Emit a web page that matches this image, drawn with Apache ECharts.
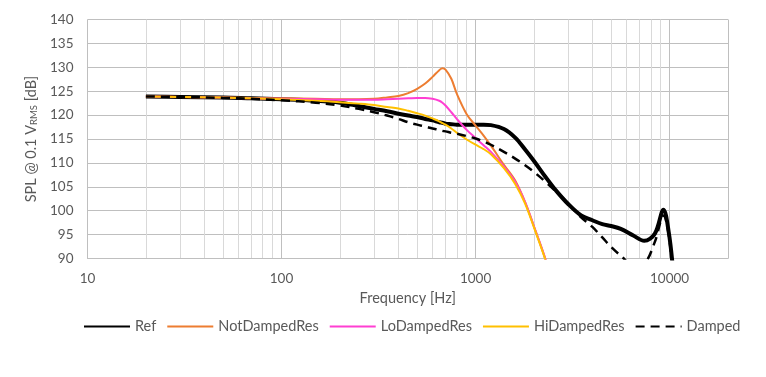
<!DOCTYPE html>
<html><head><meta charset="utf-8">
<script src="https://cdn.jsdelivr.net/npm/echarts@6/dist/echarts.min.js"></script>
<style>html,body{margin:0;padding:0;background:#fff}#c{width:766px;height:377px}</style>
</head><body><div id="c"></div>
<script>
// Frequencies [Hz]
const freq = [20, 30, 50, 70, 100, 150, 200, 250, 300, 350, 400, 450, 500, 550, 600, 650, 675, 700, 750, 800, 900, 1000, 1100, 1200, 1400, 1600, 1800, 2000, 2300, 2600, 3000, 3500, 4000, 4500, 5000, 5600, 6500, 7400, 8400, 9300, 9900, 10400];
// SPL values [dB]
const refSPL = [123.9, 123.8, 123.7, 123.5, 123.3, 123.0, 122.6, 121.9, 121.3, 120.8, 120.3, 119.9, 119.6, 119.2, 118.9, 118.5, 118.4, 118.2, 118.1, 118.0, 118.0, 118.0, 118.0, 117.9, 117.1, 115.3, 112.8, 110.4, 107.0, 104.2, 101.4, 99.0, 98.0, 97.2, 96.8, 96.2, 94.8, 93.7, 95.2, 100.2, 95.5, 88.0];
const notDampedRes = [123.9, 123.8, 123.7, 123.6, 123.5, 123.4, 123.3, 123.3, 123.4, 123.7, 124.0, 124.6, 125.5, 126.6, 128.0, 129.4, 129.8, 129.5, 127.6, 124.5, 120.2, 117.8, 115.7, 113.6, 109.6, 106.3, 101.8, 96.7, 89.6, 82.0, null, null, null, null, null, null, null, null, null, null, null, null];
const loDampedRes = [123.9, 123.8, 123.7, 123.5, 123.4, 123.3, 123.2, 123.2, 123.2, 123.3, 123.4, 123.5, 123.6, 123.6, 123.4, 123.0, 122.6, 122.0, 120.6, 119.2, 116.9, 115.2, 113.7, 112.3, 109.2, 106.0, 101.8, 96.7, 89.7, 82.0, null, null, null, null, null, null, null, null, null, null, null, null];
const hiDampedRes = [123.9, 123.8, 123.7, 123.5, 123.3, 123.0, 122.7, 122.4, 122.1, 121.7, 121.4, 120.9, 120.4, 119.9, 119.3, 118.7, 118.3, 118.0, 117.2, 116.3, 114.9, 113.8, 112.9, 111.8, 108.9, 105.6, 101.5, 96.5, 89.5, 82.0, null, null, null, null, null, null, null, null, null, null, null, null];
const damped = [123.9, 123.8, 123.6, 123.4, 123.1, 122.6, 122.0, 121.3, 120.6, 119.9, 119.2, 118.5, 118.0, 117.6, 117.2, 116.9, 116.7, 116.6, 116.3, 116.1, 115.6, 115.1, 114.5, 113.8, 112.3, 110.9, 109.5, 108.1, 106.0, 104.0, 101.5, 98.6, 96.6, 94.4, 92.4, 90.6, 88.6, 89.0, 93.5, 99.0, 95.0, 86.0];
// Axis ticks
const yTicks = [90, 95, 100, 105, 110, 115, 120, 125, 130, 135, 140];
const xTicks = [10, 100, 1000, 10000];
const xMin = 10, xMax = 20000;

const FONT = 'Lato';
const TXT = '#595959';
function pairs(vals) {
  const out = [];
  freq.forEach((f, i) => { if (vals[i] !== null) out.push([f, vals[i]]); });
  return out;
}
function mk(name, vals, color, width, type) {
  return {
    name, type: 'line', data: pairs(vals), smooth: 0.35, showSymbol: false, symbol: 'none',
    clip: true, animation: false,
    lineStyle: { color, width, type: type || 'solid', cap: 'butt', join: 'round' },
    itemStyle: { color }
  };
}
const chart = echarts.init(document.getElementById('c'), null, { renderer: 'canvas' });
chart.setOption({
  backgroundColor: '#fff',
  animation: false,
  grid: { left: 87.5, right: 38, top: 19.5, bottom: 118.5, containLabel: false },
  xAxis: {
    type: 'log', logBase: 10, min: xMin, max: xMax,
    name: 'Frequency [Hz]', nameLocation: 'middle', nameGap: 30,
    nameTextStyle: { fontFamily: FONT, fontSize: 14.5, color: TXT },
    axisLine: { show: true, lineStyle: { color: '#bfbfbf', width: 1 } },
    axisTick: { show: false },
    axisLabel: { fontFamily: FONT, fontSize: 13.5, color: TXT, margin: 13,
      formatter: v => xTicks.includes(Math.round(v)) ? String(Math.round(v)) : '' },
    splitLine: { show: true, lineStyle: { color: '#bfbfbf', width: 1 } },
    minorTick: { show: false, splitNumber: 9 },
    minorSplitLine: { show: true, lineStyle: { color: '#d9d9d9', width: 1 } }
  },
  yAxis: {
    type: 'value', min: yTicks[0], max: yTicks[yTicks.length - 1], interval: 5,
    name: '{a|SPL @ 0.1 V}{s|RMS}{a| [dB]}', nameLocation: 'middle', nameGap: 47,
    nameTextStyle: { rich: {
      a: { fontFamily: FONT, fontSize: 14.5, color: TXT },
      s: { fontFamily: FONT, fontSize: 9.5, color: TXT, verticalAlign: 'bottom' }
    } },
    axisLine: { show: false },
    axisTick: { show: false },
    axisLabel: { fontFamily: FONT, fontSize: 13.5, color: TXT, margin: 14 },
    splitLine: { show: true, lineStyle: { color: '#bfbfbf', width: 1 } }
  },
  legend: {
    top: 314, left: 78, itemWidth: 46, itemHeight: 12, itemGap: 10,
    itemStyle: { opacity: 0 },
    textStyle: { fontFamily: FONT, fontSize: 14.5, color: TXT },
    data: ['Ref', 'NotDampedRes', 'LoDampedRes', 'HiDampedRes', 'Damped']
  },
  series: [
    mk('Ref', refSPL, '#000000', 4),
    mk('NotDampedRes', notDampedRes, '#ED7D31', 2),
    mk('LoDampedRes', loDampedRes, '#FF3FD2', 2),
    mk('HiDampedRes', hiDampedRes, '#FFC000', 2),
    mk('Damped', damped, '#000000', 2.5, [9, 6])
  ]
});
</script>
</body></html>
